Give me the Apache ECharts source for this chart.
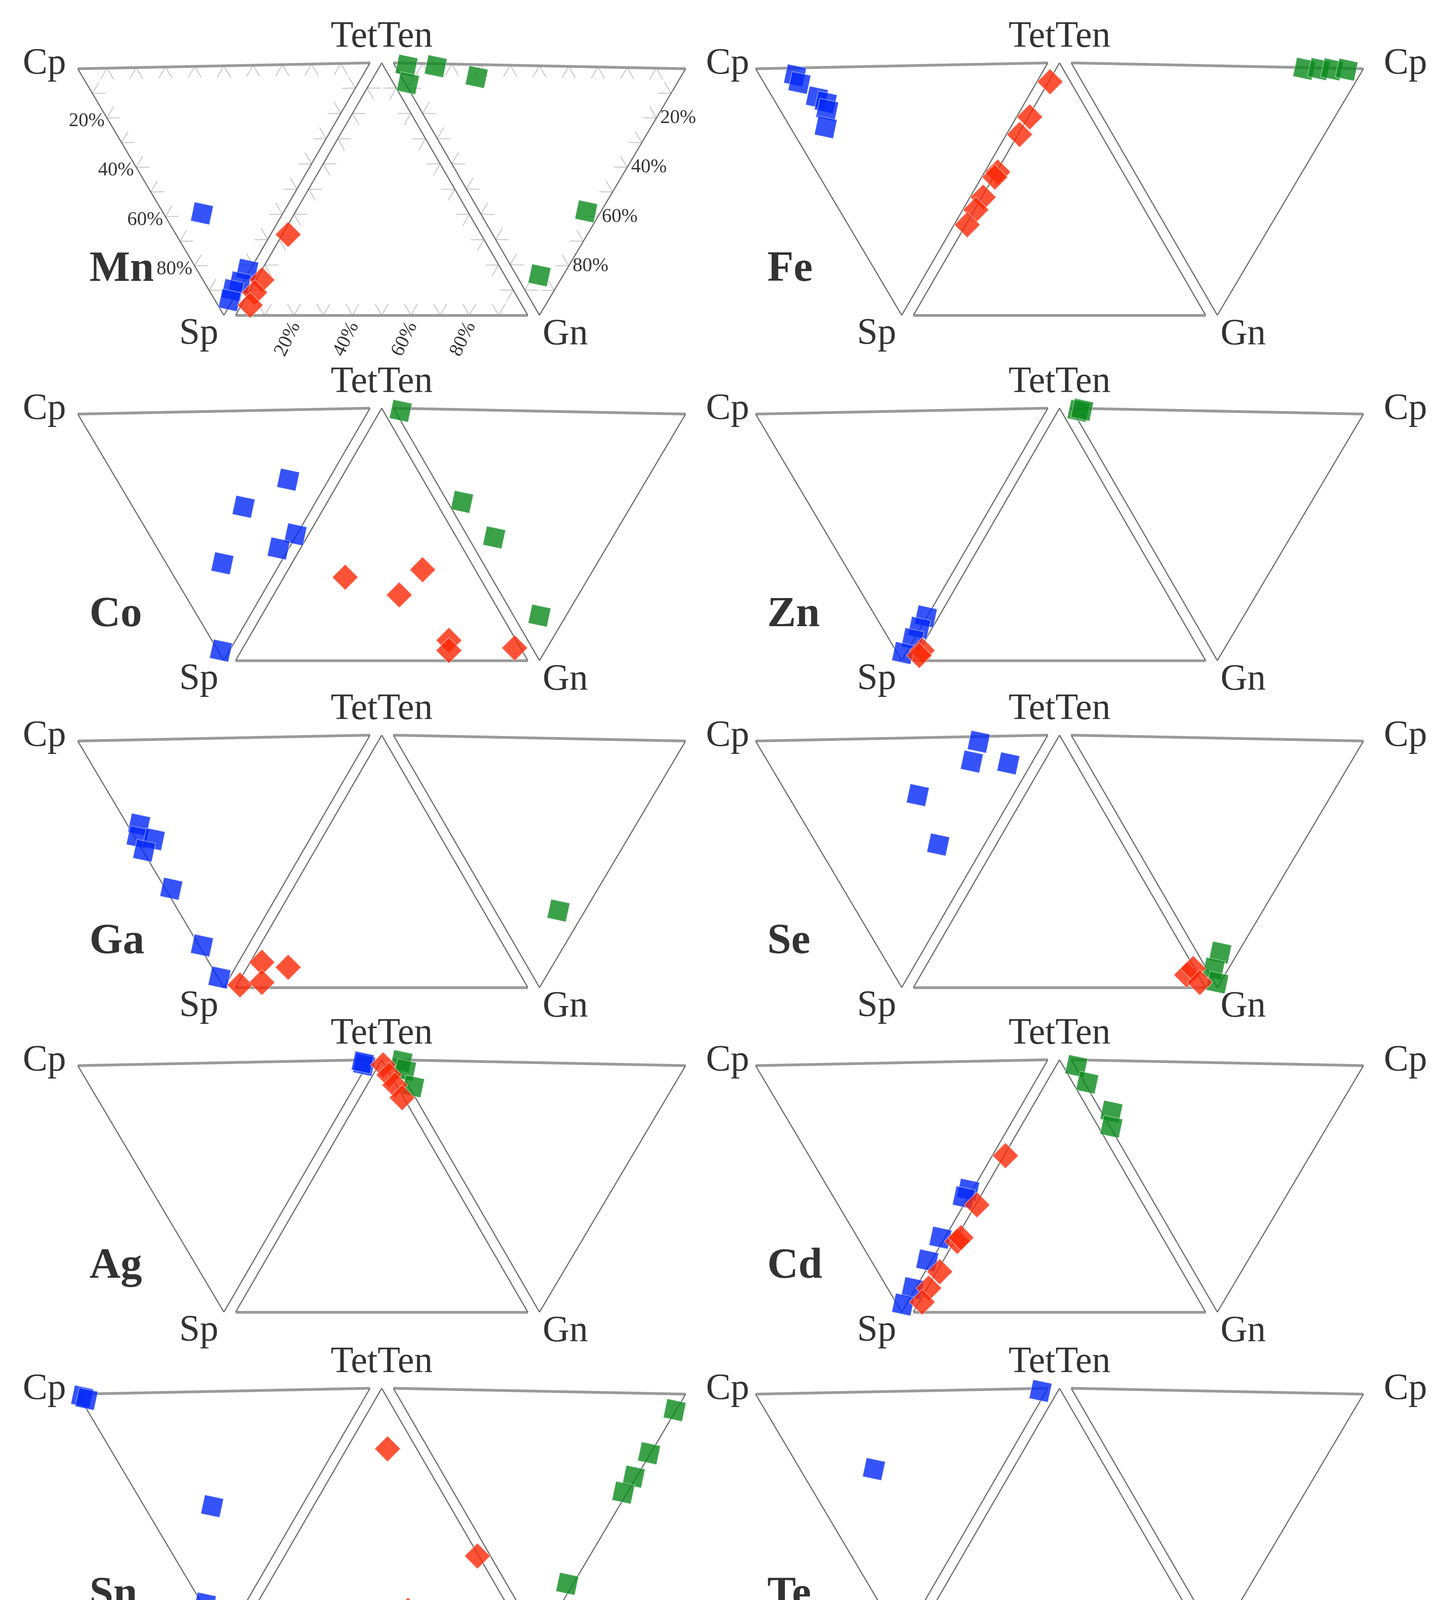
<!DOCTYPE html>
<html><head><meta charset="utf-8">
<script src="https://cdn.jsdelivr.net/npm/echarts@6.0.0/dist/echarts.min.js"></script>
<style>html,body{margin:0;padding:0;background:#fff}#c{width:3691px;height:5204px}</style>
</head><body><div id="c"></div>
<script>
// ---- DATA ----
// blue  : Cp-TetTen-Sp triangle, values [Cp, TetTen, Sp] (%)
// red   : TetTen-Sp-Gn triangle, values [TetTen, Sp, Gn] (%)
// green : TetTen-Gn-Cp triangle, values [TetTen, Gn, Cp] (%)
const elements = ['Mn','Fe','Co','Zn','Ga','Se','Ag','Cd','Sn','Te','Hg','Bi'];
const vertexNames = ['Cp','TetTen','Sp','Gn','Cp'];
const pctLabels = ['20%','40%','60%','80%'];

const mnBlue  = [[28,13,59],[1,17,82],[1,12,87],[2,8,90],[1,5,94]];
const mnRed   = [[32,66,2],[14,84,2],[9,89,2],[4,93,3]];
const mnGreen = [[95,1,4],[91,8,1],[85,1,14],[69,5,26],[5,58,37],[8,84,8]];

const feBlue  = [[85,12,3],[82,12,6],[73,15,12],[69,17,14],[67,16,17],[64,12,24]];
const feRed   = [[93,7,0.5],[79,21,0.5],[72,28,0.5],[57,43,0.5],[55,45,0.5],[47,53,0.5],[42,58,0.5],[36,64,0.5]];
const feGreen = [[20,0.5,79.5],[15,0.5,84.5],[10.5,0.5,89],[5.5,0.5,94]];

const coBlue  = [[14,58,28],[24,37.5,38.5],[0.5,49.5,50],[3.5,41,55.5],[20,19,61],[3,1,96]];
const coRed   = [[33,46,21],[36,18,46],[26,31,43],[8,23,69],[4,25,71],[5,2,93]];
const coGreen = [[97,1,2],[58,37,5],[40,51,9],[9,82,9]];

const znBlue  = [[0.5,17,82.5],[0.5,12.5,87],[0.5,8,91.5],[1,2,97]];
const znRed   = [[4,95,1],[2,97,1]];
const znGreen = [[97,1,2],[96,0.5,3.5]];

const gaBlue  = [[62,4,34],[60,1,39],[54,6,40],[55,0.5,44.5],[38,2,60],[16,1,83],[3.5,0.5,96]];
const gaRed   = [[1,98,1],[10,86,4],[2,90,8],[8,78,14]];
const gaGreen = [[9,69,22]];

const seBlue  = [[22.6,75.3,2.1],[21,69,10],[8,81,11],[33,44,23],[16,41,43]];
const seRed   = [[5,4,91],[7.5,0.5,92],[2,1,97]];
const seGreen = [[6,86,8],[5,92.5,2.5],[1,98,1]];

const agBlue  = [[1,97,2],[2,97,1]];
const agRed   = [[98,0.5,1.5],[94,0.5,5.5],[90,0.5,9.5],[85,0.5,14.5]];
const agGreen = [[97,0.5,2.5],[94,4,2],[88,10.5,1.5]];

const cdBlue  = [[1.5,47,51.5],[1.5,44,54.5],[1.5,28,70.5],[1.5,19,79.5],[1,8.5,90.5],[1,2,97]];
const cdRed   = [[62,37.5,0.5],[42.5,57,0.5],[28,71,1],[29.5,69,1.5],[16,83,1],[9.5,90,0.5],[4,95,1]];
const cdGreen = [[97,2.5,0.5],[90,9,1],[76,20.5,3.5],[73,26.5,0.5]];

const snBlue  = [[98,1,1],[96,2,2],[31,23,46],[14,1,85]];
const snRed   = [[76,10,14],[33.5,0.5,66],[12,35,53],[10,4.5,85.5],[10,0.5,89.5],[3.4,0.6,96],[0.5,92,7.5]];
const snGreen = [[0.5,6.5,93],[0.5,24,75.5],[1,33.5,65.5],[1.3,40,58.7],[2,77,21]];

const teBlue  = [[2,97,1],[44,25,31]];
const teRed   = [[10,5,85],[8,0.5,91.5],[1.3,1,97.7]];
const teGreen = [[1.4,96.6,2],[0.5,99,0.5]];

const hgBlue  = [[2,72.5,25.5],[1,67.5,31.5],[3.6,56.4,40],[0.5,25.5,74],[8,13.5,78.5],[5,13,82]];
const hgRed   = [[91.4,7.8,0.8],[67.5,29,3.5],[27,59,14],[12.7,79.8,7.5],[7.5,86.6,5.9]];
const hgGreen = [[95,4,1],[97,1,2],[50,30,20],[38,60,2]];

const biBlue  = [[1,98,1]];
const biRed   = [[12,0.5,87.5],[5,0.5,94.5],[2,1,97]];
const biGreen = [[10,88,2],[2,96.6,1.4],[0.5,99,0.5]];

const blueSets  = [mnBlue,feBlue,coBlue,znBlue,gaBlue,seBlue,agBlue,cdBlue,snBlue,teBlue,hgBlue,biBlue];
const redSets   = [mnRed,feRed,coRed,znRed,gaRed,seRed,agRed,cdRed,snRed,teRed,hgRed,biRed];
const greenSets = [mnGreen,feGreen,coGreen,znGreen,gaGreen,seGreen,agGreen,cdGreen,snGreen,teGreen,hgGreen,biGreen];

// ---- LAYOUT ----
const S = 748;                       // pixels per triangle side
const colX = [977, 2712];            // apex x of the middle triangle
const rowY = [161, 1045, 1882, 2713, 3554, 4380];  // apex y
const g = 0.04, h = 0.8636, tilt = 0.02;
const TRI = {
  left:  {A:[-1-g, h-tilt], B:[-g, h], C:[-0.5-g, 0]},   // Cp, TetTen, Sp
  mid:   {A:[0, h], B:[-0.5, 0], C:[0.5, 0]},            // TetTen, Sp, Gn
  right: {A:[g, h], B:[0.5+g, 0], C:[1+g, h-tilt]}       // TetTen, Gn, Cp
};
function tern(tri, v){
  const s = v[0]+v[1]+v[2];
  return [(v[0]*tri.A[0]+v[1]*tri.B[0]+v[2]*tri.C[0])/s,
          (v[0]*tri.A[1]+v[1]*tri.B[1]+v[2]*tri.C[1])/s];
}
function lerp(a,b,t){ return [a[0]+(b[0]-a[0])*t, a[1]+(b[1]-a[1])*t]; }
function unit(a,b){ const dx=b[0]-a[0], dy=b[1]-a[1], l=Math.hypot(dx,dy); return [dx/l, dy/l]; }
function tickSegs(tri, len){
  const V=[tri.A,tri.B,tri.C], out=[];
  for(let e=0;e<3;e++){
    const a=V[e], b=V[(e+1)%3], c=V[(e+2)%3];
    const d1=unit(a,c), d2=unit(b,c);
    for(let k=1;k<=9;k++){
      const p=lerp(a,b,k/10);
      out.push({coords:[p,[p[0]+d1[0]*len,p[1]+d1[1]*len]]});
      out.push({coords:[p,[p[0]+d2[0]*len,p[1]+d2[1]*len]]});
    }
  }
  return out;
}

const FONT = '"Liberation Serif","Times New Roman",serif';
const BLUE='#0328f6', RED='#fb2806', GREEN='#0a8a1b';

const grids=[], xAxes=[], yAxes=[], series=[];
elements.forEach((el,i)=>{
  const col=i%2, row=Math.floor(i/2);
  grids.push({left: colX[col]-1.2*S, top: rowY[row]-(1-h)*S, width: 2.4*S, height: 1.2*S});
  xAxes.push({gridIndex:i, type:'value', min:-1.2, max:1.2, show:false, splitLine:{show:false}});
  yAxes.push({gridIndex:i, type:'value', min:-0.2, max:1.0, show:false, splitLine:{show:false}});
  const ax={xAxisIndex:i, yAxisIndex:i};
  const L=TRI.left, M=TRI.mid, R=TRI.right;

  if(i===0){
    series.push({type:'lines', coordinateSystem:'cartesian2d', ...ax, silent:true, z:1,
      lineStyle:{color:'#c9c9c9', width:2.5, opacity:1},
      data:[...tickSegs(L,0.045),...tickSegs(M,0.045),...tickSegs(R,0.045)]});
  }
  series.push({type:'lines', coordinateSystem:'cartesian2d', ...ax, silent:true, z:2,
    lineStyle:{color:'#9a9a9a', width:7, opacity:1},
    data:[{coords:[L.A,L.B]},{coords:[M.B,M.C]},{coords:[R.A,R.C]}]});
  series.push({type:'lines', coordinateSystem:'cartesian2d', ...ax, silent:true, z:2,
    lineStyle:{color:'#6e6e6e', width:3, opacity:1},
    data:[{coords:[L.A,L.C]},{coords:[L.B,L.C]},{coords:[M.A,M.B]},{coords:[M.A,M.C]},{coords:[R.A,R.B]},{coords:[R.C,R.B]}]});

  const border = {borderColor:'rgba(255,255,255,0.55)', borderWidth:2};
  series.push({type:'scatter', ...ax, z:3, silent:true, symbol:'rect', symbolSize:49, symbolRotate:-12,
    itemStyle:{color:GREEN, ...border}, data: greenSets[i].map(v=>tern(R,v))});
  series.push({type:'scatter', ...ax, z:4, silent:true, symbol:'rect', symbolSize:49, symbolRotate:-12,
    itemStyle:{color:BLUE, ...border}, data: blueSets[i].map(v=>tern(L,v))});
  series.push({type:'scatter', ...ax, z:5, silent:true, symbol:'diamond', symbolSize:66,
    itemStyle:{color:RED, ...border}, data: redSets[i].map(v=>tern(M,v))});

  // text labels
  const lab = (pos, text, p, align, extra) => ({value:pos, label:Object.assign({show:true, formatter:text, position:p, align:align, verticalAlign:'middle', fontFamily:FONT, fontSize:95, color:'#000'}, extra||{})});
  const txt = [
    lab(M.A, vertexNames[1], [0,-66], 'center'),
    lab(L.C, vertexNames[2], [-14,48], 'right'),
    lab(R.B, vertexNames[3], [8,50], 'left'),
    lab(R.C, vertexNames[4], [52,-12], 'left'),
    lab([-1.0,0.156], el, [0,0], 'left', {fontSize:110, fontWeight:'bold'})
  ];
  if(col===0) txt.push(lab(L.A, vertexNames[0], [-30,-12], 'right'));
  if(i===0){
    pctLabels.forEach((t,k)=>{
      const f=(k+1)*0.2;
      txt.push(lab(lerp(L.A,L.C,f), t, [-6,8], 'right', {fontSize:50}));
      txt.push(lab(lerp(R.C,R.B,f), t, [10,0], 'left', {fontSize:50}));
      txt.push(lab(lerp(M.B,M.C,f), t, [4,20], 'right', {fontSize:50, rotate:64}));
    });
  }
  series.push({type:'scatter', ...ax, z:6, silent:true, symbolSize:0, data:txt});
});

const chart = echarts.init(document.getElementById('c'), null, {width:3691, height:5204});
chart.setOption({animation:false, backgroundColor:'#fff', grid:grids, xAxis:xAxes, yAxis:yAxes, series:series});
</script></body></html>
